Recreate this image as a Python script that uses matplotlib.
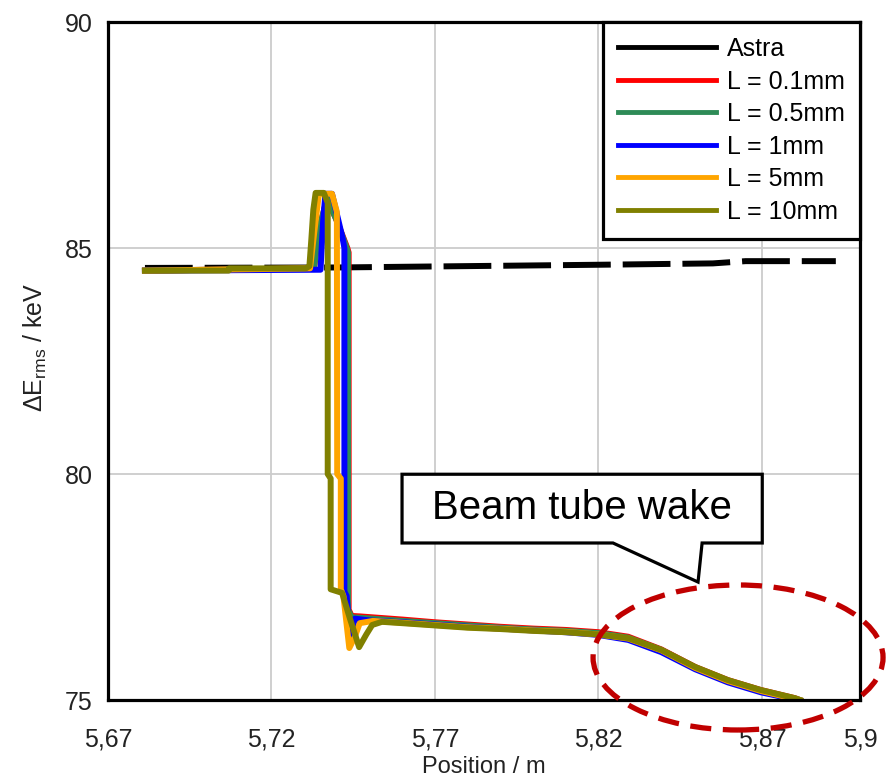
import matplotlib
matplotlib.use("Agg")
import matplotlib.pyplot as plt
from matplotlib.patches import Ellipse, Polygon

plt.rcParams['font.family'] = ['Liberation Sans', 'DejaVu Sans']
plt.rcParams['mathtext.fontset'] = 'custom'
plt.rcParams['mathtext.rm'] = 'Liberation Sans'

# Energiespreizung entlang der Strahlachse
astra_x = [5.6813, 5.7400, 5.7800, 5.8200, 5.8550, 5.8650, 5.8926]
astra_y = [84.56, 84.57, 84.60, 84.63, 84.66, 84.71, 84.71]

l01_x = [5.6813, 5.7330, 5.7345, 5.7370, 5.7400, 5.7432, 5.7436, 5.7436, 5.7445, 5.7470,
         5.7600, 5.7700, 5.7800, 5.7900, 5.8000, 5.8100, 5.8200, 5.8291, 5.8392, 5.8496,
         5.8596, 5.8697, 5.8801, 5.8816]
l01_y = [84.50, 84.55, 85.40, 86.10, 85.60, 85.00, 84.90, 77.00, 76.86, 76.85,
         76.78, 76.72, 76.67, 76.62, 76.58, 76.55, 76.50, 76.40, 76.12, 75.73,
         75.44, 75.22, 75.04, 75.00]

l05_x = [5.6813, 5.7330, 5.7345, 5.7370, 5.7400, 5.7430, 5.7434, 5.7434, 5.7445, 5.7470,
         5.7600, 5.7700, 5.7800, 5.7900, 5.8000, 5.8100, 5.8200, 5.8291, 5.8392, 5.8496,
         5.8596, 5.8697, 5.8801, 5.8816]
l05_y = [84.50, 84.55, 85.40, 86.10, 85.60, 85.00, 84.90, 77.00, 76.83, 76.82,
         76.75, 76.70, 76.65, 76.60, 76.56, 76.53, 76.48, 76.38, 76.11, 75.72,
         75.43, 75.21, 75.03, 75.00]

l1_x = [5.6813, 5.7350, 5.7358, 5.7365, 5.7385, 5.7405, 5.7418, 5.7423, 5.7423, 5.7430,
        5.7440, 5.7455, 5.7500, 5.7600, 5.7700, 5.7800, 5.7900, 5.8000, 5.8100, 5.8200,
        5.8291, 5.8392, 5.8496, 5.8596, 5.8697, 5.8795, 5.8808]
l1_y = [84.50, 84.52, 85.60, 86.20, 86.20, 85.60, 85.20, 85.00, 77.40, 77.30,
        76.35, 76.80, 76.76, 76.72, 76.67, 76.62, 76.58, 76.54, 76.50, 76.44,
        76.33, 76.06, 75.68, 75.39, 75.17, 75.02, 75.00]

l5_x = [5.6813, 5.7318, 5.7330, 5.7345, 5.7385, 5.7400, 5.7401, 5.7412, 5.7412, 5.7420,
        5.7438, 5.7455, 5.7470, 5.7510, 5.7600, 5.7700, 5.7800, 5.7900, 5.8000, 5.8100,
        5.8200, 5.8291, 5.8392, 5.8496, 5.8596, 5.8697, 5.8801, 5.8814]
l5_y = [84.50, 84.55, 85.30, 86.20, 86.20, 85.80, 80.00, 79.90, 77.45, 77.30,
        76.15, 76.40, 76.70, 76.75, 76.71, 76.66, 76.61, 76.58, 76.54, 76.51,
        76.45, 76.36, 76.10, 75.71, 75.42, 75.20, 75.02, 75.00]

l10_x = [5.6813, 5.7069, 5.7070, 5.7305, 5.7316, 5.7322, 5.7328, 5.7335, 5.7360, 5.7372,
         5.7372, 5.7381, 5.7381, 5.7416, 5.7440, 5.7468, 5.7490, 5.7508, 5.7538, 5.7600,
         5.7700, 5.7800, 5.7900, 5.8000, 5.8100, 5.8200, 5.8291, 5.8392, 5.8496, 5.8596,
         5.8697, 5.8801, 5.8816]
l10_y = [84.50, 84.50, 84.55, 84.55, 84.60, 85.20, 85.85, 86.22, 86.22, 86.00,
         80.00, 79.90, 77.45, 77.37, 76.80, 76.17, 76.45, 76.66, 76.73, 76.70,
         76.65, 76.60, 76.57, 76.53, 76.50, 76.45, 76.37, 76.11, 75.73, 75.44,
         75.22, 75.04, 75.00]

x_ticks = [5.67, 5.72, 5.77, 5.82, 5.87, 5.9]
x_ticklabels = ['5,67', '5,72', '5,77', '5,82', '5,87', '5,9']
y_ticks = [75, 80, 85, 90]

fig = plt.figure(figsize=(8.94, 7.79), dpi=100)
ax = fig.add_axes([0.1208, 0.1014, 0.8412, 0.8703])

lw = 4.3
ax.plot(astra_x, astra_y, color='black', lw=lw, linestyle=(0, (8, 2)), label='Astra', zorder=2)
ax.plot(l01_x, l01_y, color='#ff0000', lw=lw, label='L = 0.1mm', zorder=3)
ax.plot(l05_x, l05_y, color='#2e8b57', lw=lw, label='L = 0.5mm', zorder=3)
ax.plot(l1_x, l1_y, color='#0000ff', lw=lw, label='L = 1mm', zorder=3)
ax.plot(l5_x, l5_y, color='#ffa500', lw=lw, label='L = 5mm', zorder=3)
ax.plot(l10_x, l10_y, color='#808000', lw=lw, label='L = 10mm', zorder=3)

ax.set_xlim(5.67, 5.9)
ax.set_ylim(75, 90)
ax.set_xticks(x_ticks)
ax.set_xticklabels(x_ticklabels)
ax.set_yticks(y_ticks)
ax.tick_params(axis='both', length=0, labelsize=18, colors='#222222')
ax.tick_params(axis='x', pad=20)
ax.tick_params(axis='y', pad=11)
ax.grid(True, color='#cccccc', lw=1.3)
ax.set_axisbelow(True)
for s in ax.spines.values():
    s.set_linewidth(2.3)
    s.set_color('black')
    s.set_zorder(6)

ax.set_xlabel('Position / m', fontsize=17, color='#222222', labelpad=3)
ax.set_ylabel('ΔE$_\\mathrm{rms}$ / keV', fontsize=18, color='#222222')
ax.yaxis.set_label_coords(-0.078, 0.52)

leg = ax.legend(loc='upper right', borderaxespad=0, fontsize=18, handlelength=3.9,
                labelspacing=0.34, handletextpad=0.45, borderpad=0.6,
                fancybox=False, framealpha=1, edgecolor='black')
leg.get_frame().set_linewidth(2.3)
leg.set_zorder(7)
for h in leg.get_lines():
    h.set_linewidth(3.5)
    h.set_linestyle('-')

# Sprechblase mit Hinweis
box = [(0.391, 0.333), (0.870, 0.333), (0.870, 0.2316), (0.790, 0.2316),
       (0.7846, 0.174), (0.6715, 0.2316), (0.391, 0.2316)]
ax.add_patch(Polygon(box, closed=True, transform=ax.transAxes, facecolor='white',
                     edgecolor='black', lw=2.3, zorder=8))
ax.text(0.63, 0.283, 'Beam tube wake', transform=ax.transAxes, fontsize=29,
        ha='center', va='center', zorder=9)

# gestrichelte Ellipse um den Abfall
ax.add_patch(Ellipse((0.8378, 0.0627), 0.3856, 0.2139, transform=ax.transAxes,
                     fill=False, edgecolor='#c00000', lw=3.8, linestyle=(0, (4, 2.2)),
                     clip_on=False, zorder=10))

fig.savefig('out.png', dpi=100)
